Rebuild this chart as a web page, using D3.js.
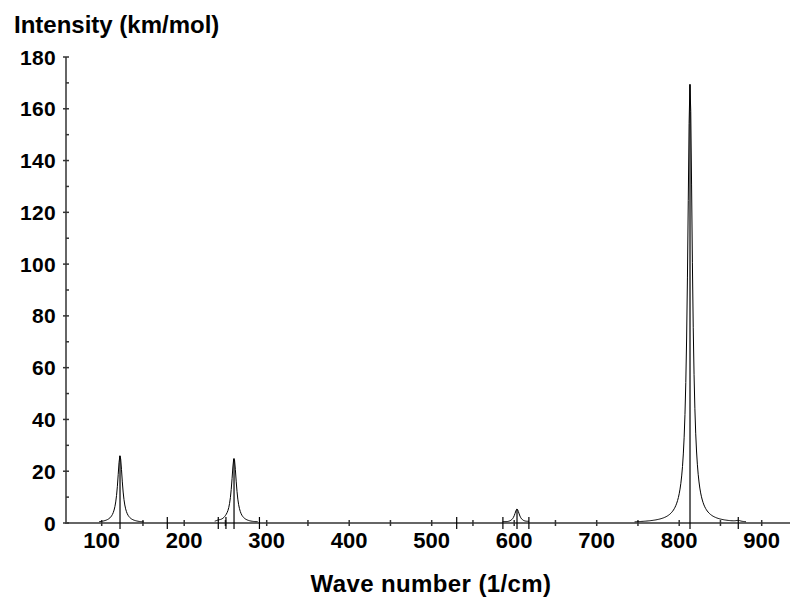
<!DOCTYPE html>
<html>
<head>
<meta charset="utf-8">
<script src="https://cdn.jsdelivr.net/npm/d3@7/dist/d3.min.js"></script>
<style>
  html, body { margin: 0; padding: 0; background: #fff; }
  svg { display: block; }
  text { font-family: "Liberation Sans", Arial, sans-serif; font-weight: bold; fill: #000; }
</style>
</head>
<body>
<svg id="chart" width="790" height="598"></svg>
<script>
// Vibrational modes: wave number (1/cm) and IR intensity (km/mol)
const modeFreq      = [122.2, 179.5, 241.3, 250.6, 260.4, 291.2, 530.3, 586.3, 603.4, 617.8, 813.1, 871.6];
const modeIntensity = [26.0,  0.2,   0.3,   0.3,   25.0,  0.2,   0.1,   0.3,   5.3,   0.3,   169.5, 0.4];

// Wave-number windows in which the broadened band envelope is drawn
const bandStart = [97, 237, 586, 746];
const bandEnd   = [151, 289, 618, 881];
const halfWidth = 3.5;   // Lorentzian half width at half maximum (1/cm)

// Axis ticks
const xTicks = [100, 150, 200, 250, 300, 350, 400, 450, 500, 550, 600, 650, 700, 750, 800, 850, 900];
const xLabels = ["100", "200", "300", "400", "500", "600", "700", "800", "900"];
const yTicks = [0, 10, 20, 30, 40, 50, 60, 70, 80, 90, 100, 110, 120, 130, 140, 150, 160, 170, 180];
const yLabels = ["0", "20", "40", "60", "80", "100", "120", "140", "160", "180"];

const svg = d3.select("#chart");
const x0 = 66, x1 = 790, yBase = 523, yTop = 57;

const x = d3.scaleLinear().domain([100, 900]).range([101.7, 761.7]);
const y = d3.scaleLinear().domain([0, 180]).range([yBase, yTop]);

// Axis lines
svg.append("line").attr("x1", x0).attr("x2", x0).attr("y1", yTop).attr("y2", yBase + 1)
  .attr("stroke", "#666").attr("stroke-width", 2);
svg.append("line").attr("x1", x0).attr("x2", x1).attr("y1", yBase).attr("y2", yBase)
  .attr("stroke", "#666").attr("stroke-width", 2);

// X ticks (crossing the axis)
svg.append("g").selectAll("line").data(xTicks).join("line")
  .attr("x1", d => x(d)).attr("x2", d => x(d))
  .attr("y1", yBase - 3).attr("y2", yBase + 3)
  .attr("stroke", "#333").attr("stroke-width", 1.5);

svg.append("g").selectAll("text").data(xLabels).join("text")
  .attr("x", d => x(+d)).attr("y", 548)
  .attr("text-anchor", "middle").attr("font-size", 22)
  .text(d => d);

// Y ticks: majors cross the axis, minors to the right
svg.append("g").selectAll("line").data(yTicks).join("line")
  .attr("x1", d => d % 20 === 0 ? x0 - 3 : x0).attr("x2", x0 + 3)
  .attr("y1", d => y(d)).attr("y2", d => y(d))
  .attr("stroke", "#333").attr("stroke-width", 1.5);

svg.append("g").selectAll("text").data(yLabels).join("text")
  .attr("x", 56).attr("y", d => y(+d) + 7.5)
  .attr("text-anchor", "end").attr("font-size", 21).attr("letter-spacing", 0.3)
  .text(d => d);

// Axis titles
svg.append("text").attr("x", 14).attr("y", 33).attr("font-size", 24)
  .text("Intensity (km/mol)");
svg.append("text").attr("x", 431).attr("y", 592).attr("font-size", 24)
  .attr("text-anchor", "middle").attr("letter-spacing", 0.4)
  .text("Wave number (1/cm)");

// Broadened envelope: sum of Lorentzian bands of all modes
function envelope(nu) {
  let s = 0;
  for (let i = 0; i < modeFreq.length; i++) {
    const u = (nu - modeFreq[i]) / halfWidth;
    s += modeIntensity[i] / (1 + u * u);
  }
  return s;
}

const line = d3.line().x(d => x(d[0])).y(d => y(d[1]));
bandStart.forEach((a, k) => {
  const pts = d3.range(a, bandEnd[k] + 0.001, 1).map(nu => [nu, envelope(nu)]);
  svg.append("path").attr("d", line(pts))
    .attr("fill", "none").attr("stroke", "#000").attr("stroke-width", 1);
});

// Stick spectrum
svg.append("g").selectAll("line").data(modeFreq).join("line")
  .attr("x1", d => x(d)).attr("x2", d => x(d))
  .attr("y1", yBase + 6)
  .attr("y2", (d, i) => Math.min(y(modeIntensity[i]), yBase - 6))
  .attr("stroke", "#000").attr("stroke-width", 1.2);
</script>
</body>
</html>
